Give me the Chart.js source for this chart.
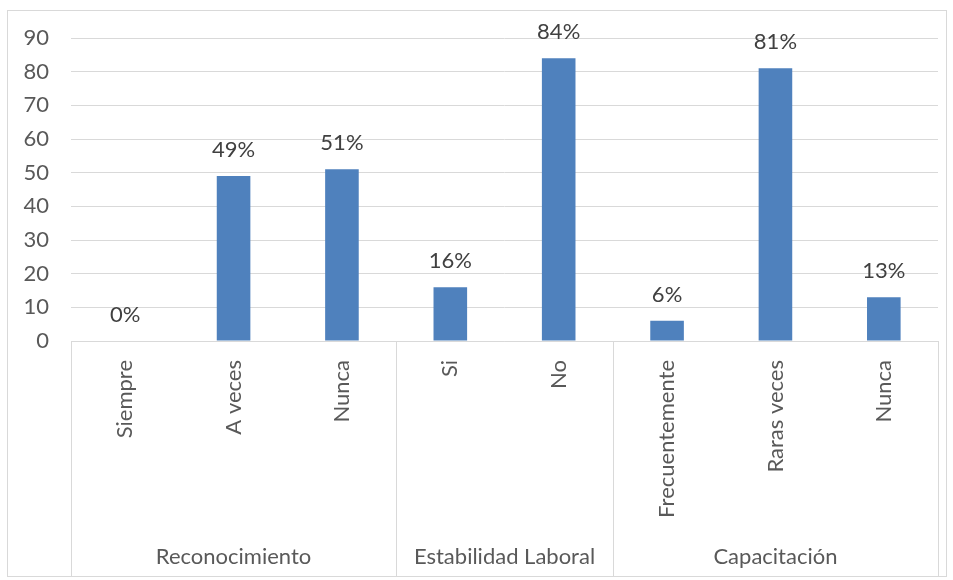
<!DOCTYPE html>
<html>
<head>
<meta charset="utf-8">
<script src="https://cdn.jsdelivr.net/npm/chart.js@4"></script>
<style>
  body { margin: 0; background: #fff; }
  #wrap { width: 953px; height: 580px; }
</style>
</head>
<body>
<div id="wrap"><canvas id="barChart" width="953" height="580"></canvas></div>
<script>
// Datos del grafico
const categories = ['Siempre', 'A veces', 'Nunca', 'Si', 'No', 'Frecuentemente', 'Raras veces', 'Nunca'];
const values = [0, 49, 51, 16, 84, 6, 81, 13];
const groupNames = ['Reconocimiento', 'Estabilidad Laboral', 'Capacitación'];
const groupSizes = [3, 2, 3];
const yMax = 90;
const yStep = 10;

const textColor = '#595959';
const labelColor = '#404040';
const gridColor = '#d9d9d9';
const barColor = '#4f81bd';
const fontFamily = 'Lato, "Open Sans", sans-serif';
const fontSize = 22;

// Separadores, etiquetas de grupo y borde exterior
const groupPlugin = {
    id: 'groupPlugin',
    afterDraw(chart) {
        const ctx = chart.ctx;
        const x = chart.scales.x;
        const area = chart.chartArea;
        const step = (area.right - area.left) / categories.length;
        const bottom = 577;

        ctx.save();
        ctx.strokeStyle = gridColor;
        ctx.lineWidth = 1;

        // borde del grafico
        ctx.strokeRect(7.5, 10.5, 939, 566);

        // linea del eje x
        ctx.beginPath();
        ctx.moveTo(area.left, Math.round(area.bottom) + 0.5);
        ctx.lineTo(area.right, Math.round(area.bottom) + 0.5);
        ctx.stroke();

        let start = 0;
        const edges = [area.left];
        groupSizes.forEach(n => {
            start += n;
            edges.push(x.getPixelForValue(start - 1) + step / 2);
        });
        edges.forEach(px => {
            ctx.beginPath();
            ctx.moveTo(Math.round(px) + 0.5, area.bottom);
            ctx.lineTo(Math.round(px) + 0.5, bottom);
            ctx.stroke();
        });

        ctx.fillStyle = textColor;
        ctx.font = fontSize + 'px ' + fontFamily;
        ctx.textAlign = 'center';
        ctx.textBaseline = 'alphabetic';
        groupNames.forEach((name, i) => {
            ctx.fillText(name, (edges[i] + edges[i + 1]) / 2, 564);
        });

        // etiquetas de porcentaje
        ctx.fillStyle = labelColor;
        const meta = chart.getDatasetMeta(0);
        meta.data.forEach((bar, i) => {
            ctx.fillText(values[i] + '%', bar.x, bar.y - 19);
        });
        ctx.restore();
    }
};

const barChart = new Chart(document.getElementById('barChart'), {
    type: 'bar',
    data: {
        labels: categories,
        datasets: [{
            label: 'Porcentaje',
            data: values,
            backgroundColor: barColor,
            borderWidth: 0,
            barPercentage: 0.31,
            categoryPercentage: 1
        }]
    },
    options: {
        responsive: false,
        animation: false,
        devicePixelRatio: 1,
        layout: {
            padding: { left: 0, top: 38, right: 15, bottom: 3 }
        },
        plugins: {
            legend: { display: false },
            tooltip: { enabled: false }
        },
        scales: {
            x: {
                grid: { display: false, drawTicks: false },
                border: { display: false },
                ticks: {
                    color: textColor,
                    font: { family: fontFamily, size: fontSize },
                    minRotation: 90,
                    maxRotation: 90,
                    autoSkip: false,
                    padding: 19
                },
                afterFit(scale) { scale.height = 236; }
            },
            y: {
                min: 0,
                max: yMax,
                grid: { color: gridColor, drawTicks: false },
                border: { display: false },
                ticks: {
                    stepSize: yStep,
                    color: textColor,
                    font: { family: fontFamily, size: fontSize },
                    padding: 22
                },
                afterFit(scale) { scale.width = 71; }
            }
        }
    },
    plugins: [groupPlugin]
});
</script>
</body>
</html>
